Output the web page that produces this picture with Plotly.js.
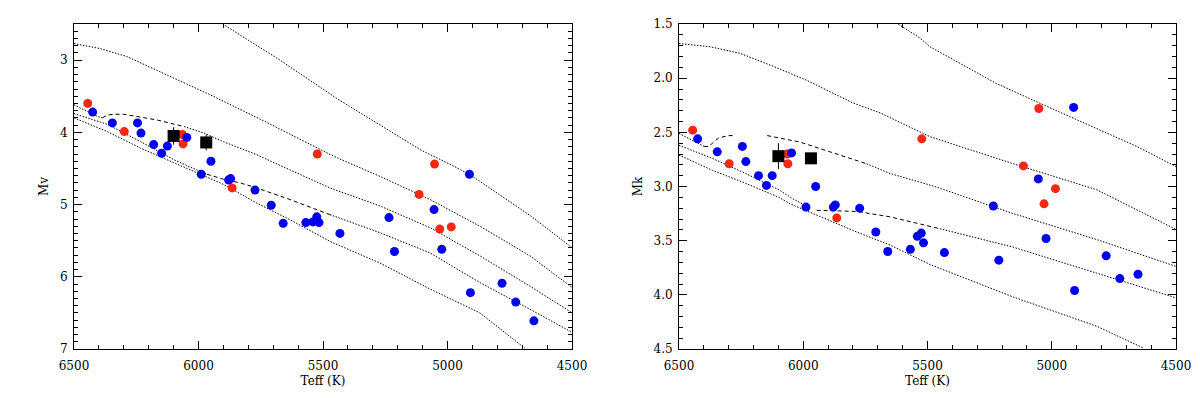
<!DOCTYPE html>
<html>
<head>
<meta charset="utf-8">
<script src="https://cdn.plot.ly/plotly-3.0.1.min.js"></script>
<style>
  body { margin: 0; background: #fff; }
  #hr { width: 1200px; height: 398px; }
</style>
</head>
<body>
<div id="hr"></div>
<script>
// stars: red sample
var teffRed = [6445, 6298, 6065, 6062, 5865, 5523, 5052, 5114, 5031, 4985];
var mvRed   = [3.60, 3.99, 4.03, 4.16, 4.77, 4.30, 4.44, 4.86, 5.34, 5.31];
var mkRed   = [2.48, 2.79, 2.70, 2.79, 3.29, 2.56, 2.28, 2.81, 3.16, 3.02];

// stars: blue sample
var teffBlue = [6425, 6346, 6245, 6231, 6180, 6125, 6148, 6047, 5950, 5989, 5879, 5871, 5773, 5708, 5660,
                5569, 5541, 5525, 5516, 5432, 5235, 5213, 5054, 5023, 4912, 4908, 4781, 4726, 4653];
var mvBlue   = [3.72, 3.87, 3.87, 4.01, 4.17, 4.19, 4.29, 4.07, 4.40, 4.58, 4.66, 4.64, 4.80, 5.01, 5.26,
                5.25, 5.24, 5.17, 5.25, 5.40, 5.18, 5.65, 5.07, 5.62, 4.58, 6.22, 6.09, 6.35, 6.61];
var mkBlue   = [2.56, 2.68, 2.63, 2.77, 2.90, 2.90, 2.99, 2.69, 3.00, 3.19, 3.19, 3.17, 3.20, 3.42, 3.60,
                3.58, 3.46, 3.43, 3.52, 3.61, 3.18, 3.68, 2.93, 3.48, 2.27, 3.96, 3.64, 3.85, 3.81];

// the two program stars (black squares)
var teffSq  = [6100, 5969];
var mvSq    = [4.05, 4.14];
var mvSqErr = [0.12, 0.11];
var mkSq    = [2.72, 2.74];
var mkSqErr = [0.12, 0.04];

// isochrones, Mv panel
var v1T = [5903, 5673, 5445, 5110, 5003, 4912, 4669, 4499];
var v1M = [2.50, 3.00, 3.53, 4.24, 4.42, 4.58, 5.15, 5.60];
var v2T = [6500, 6396, 6288, 6128, 5941, 5733, 5452, 5271, 5070, 4870, 4669, 4499];
var v2M = [2.77, 2.84, 2.95, 3.20, 3.50, 3.85, 4.34, 4.61, 4.93, 5.30, 5.71, 6.15];
var v3T = [6500, 6406, 6386, 6366, 6339, 6299, 6165, 6058, 5978, 5900, 5766, 5633, 5472, 5271, 5070, 4870, 4669, 4499];
var v3M = [3.62, 3.78, 3.80, 3.76, 3.75, 3.75, 3.83, 3.92, 4.01, 4.13, 4.31, 4.52, 4.77, 5.02, 5.32, 5.71, 6.13, 6.50];
var v4T = [6500, 6366, 6232, 6098, 6034, 5966, 5900, 5833, 5766, 5633, 5472, 5271, 5070, 4870, 4669, 4499];
var v4M = [3.74, 3.89, 4.13, 4.38, 4.48, 4.58, 4.65, 4.70, 4.77, 4.93, 5.14, 5.39, 5.67, 6.08, 6.45, 6.77];
var v5T = [6500, 6366, 6232, 6098, 5978, 5900, 5766, 5633, 5472, 5271, 5070, 4870, 4689];
var v5M = [3.80, 3.99, 4.22, 4.42, 4.61, 4.72, 4.98, 5.21, 5.51, 5.81, 6.17, 6.50, 6.99];

// isochrones, Mk panel
var k1T = [5618, 5530, 5490, 5222, 5020, 4806, 4658, 4497];
var k1M = [1.50, 1.63, 1.71, 2.05, 2.26, 2.48, 2.63, 2.82];
var k2T = [6500, 6375, 6255, 6121, 5986, 5799, 5691, 5490, 5155, 4819, 4497];
var k2M = [1.68, 1.71, 1.77, 1.89, 2.02, 2.23, 2.32, 2.54, 2.79, 3.03, 3.40];
var k3T = [6500, 6433, 6399, 6379, 6366, 6339, 6299, 6279, 6145, 6013, 5879, 5745, 5651, 5470, 5155, 4819, 4497];
var k3M = [2.51, 2.59, 2.63, 2.63, 2.60, 2.55, 2.53, 2.53, 2.53, 2.59, 2.69, 2.79, 2.88, 3.00, 3.25, 3.49, 3.74];
var k4T = [6500, 6366, 6232, 6098, 6044, 5973, 5946, 5785, 5651, 5450, 5155, 4819, 4497];
var k4M = [2.62, 2.74, 2.88, 3.03, 3.11, 3.20, 3.22, 3.23, 3.28, 3.39, 3.56, 3.80, 4.03];
var k5T = [6500, 6366, 6232, 6098, 6053, 5919, 5785, 5651, 5543, 5490, 5155, 4819, 4632];
var k5M = [2.71, 2.85, 2.97, 3.10, 3.16, 3.29, 3.42, 3.54, 3.66, 3.72, 4.02, 4.29, 4.49];

var DOT = '1.5px,1.5px';
var DASH = '4px,3px';

// one line trace over a slice [a, b] of a curve
function seg(xs, ys, a, b, dash, xa, ya) {
  return {
    x: xs.slice(a, b + 1), y: ys.slice(a, b + 1),
    xaxis: xa, yaxis: ya, type: 'scatter', mode: 'lines',
    line: {color: 'black', width: 1, dash: dash},
    hoverinfo: 'skip'
  };
}

function whole(xs, ys, xa, ya) {
  return seg(xs, ys, 0, xs.length - 1, DOT, xa, ya);
}

function stars(xs, ys, col, size, xa, ya) {
  return {
    x: xs, y: ys, xaxis: xa, yaxis: ya, type: 'scatter', mode: 'markers',
    marker: {color: col, size: size, line: {width: 0}}
  };
}

function squares(ys, err, xa, ya) {
  return {
    x: teffSq, y: ys, xaxis: xa, yaxis: ya, type: 'scatter', mode: 'markers',
    marker: {color: 'black', symbol: 'square', size: 12},
    error_y: {type: 'data', array: err, visible: true, color: 'black', thickness: 1, width: 0}
  };
}

var RED = 'rgb(245,40,20)';
var BLUE = 'rgb(0,0,240)';

var data = [
  whole(v1T, v1M, 'x', 'y'),
  whole(v2T, v2M, 'x', 'y'),
  seg(v3T, v3M, 0, 2, DOT, 'x', 'y'),
  seg(v3T, v3M, 2, 7, DASH, 'x', 'y'),
  seg(v3T, v3M, 7, v3T.length - 1, DOT, 'x', 'y'),
  seg(v4T, v4M, 0, 5, DOT, 'x', 'y'),
  seg(v4T, v4M, 5, 10, DASH, 'x', 'y'),
  seg(v4T, v4M, 10, v4T.length - 1, DOT, 'x', 'y'),
  whole(v5T, v5M, 'x', 'y'),
  stars(teffRed, mvRed, RED, 9, 'x', 'y'),
  stars(teffBlue, mvBlue, BLUE, 9, 'x', 'y'),
  squares(mvSq, mvSqErr, 'x', 'y'),

  whole(k1T, k1M, 'x2', 'y2'),
  whole(k2T, k2M, 'x2', 'y2'),
  seg(k3T, k3M, 0, 2, DOT, 'x2', 'y2'),
  seg(k3T, k3M, 2, 7, DASH, 'x2', 'y2'),
  seg(k3T, k3M, 8, 11, DASH, 'x2', 'y2'),
  seg(k3T, k3M, 11, k3T.length - 1, DOT, 'x2', 'y2'),
  seg(k4T, k4M, 0, 5, DOT, 'x2', 'y2'),
  seg(k4T, k4M, 6, 9, DASH, 'x2', 'y2'),
  seg(k4T, k4M, 9, k4T.length - 1, DOT, 'x2', 'y2'),
  whole(k5T, k5M, 'x2', 'y2'),
  stars(teffRed, mkRed, RED, 9, 'x2', 'y2'),
  stars(teffBlue, mkBlue, BLUE, 9, 'x2', 'y2'),
  squares(mkSq, mkSqErr, 'x2', 'y2')
];

var FONT = {family: 'DejaVu Serif', size: 12, color: 'black'};

function ax(extra) {
  var a = {
    showline: true, linecolor: 'black', linewidth: 1, mirror: 'allticks',
    ticks: 'inside', ticklen: 8, tickwidth: 1, tickcolor: 'black', layer: 'above traces',
    showgrid: false, zeroline: false, tickfont: FONT,
    minor: {ticks: 'inside', ticklen: 4, tickwidth: 1, tickcolor: 'black'}
  };
  for (var k in extra) {
    if (k === 'minor') { for (var m in extra.minor) a.minor[m] = extra.minor[m]; }
    else a[k] = extra[k];
  }
  return a;
}

var layout = {
  width: 1200, height: 398,
  margin: {l: 0, r: 0, t: 24, b: 49},
  paper_bgcolor: 'white', plot_bgcolor: 'white',
  showlegend: false,
  font: FONT,
  xaxis: ax({domain: [74 / 1200, 572 / 1200], anchor: 'y', range: [6500, 4500],
             tick0: 4500, dtick: 500, minor: {dtick: 100}, ticklabelstandoff: 6,
             title: {text: 'Teff (K)', font: FONT, standoff: 4}}),
  yaxis: ax({domain: [0, 1], anchor: 'x', range: [7, 2.5],
             tick0: 0, dtick: 1, minor: {dtick: 0.1}, ticklabelstandoff: 3,
             title: {text: 'Mv', font: FONT, standoff: 8}}),
  xaxis2: ax({domain: [679 / 1200, 1176 / 1200], anchor: 'y2', range: [6500, 4500],
              tick0: 4500, dtick: 500, minor: {dtick: 100}, ticklabelstandoff: 6,
              title: {text: 'Teff (K)', font: FONT, standoff: 4}}),
  yaxis2: ax({domain: [0, 1], anchor: 'x2', range: [4.5, 1.5],
              tick0: 0, dtick: 0.5, tickformat: '.1f', minor: {dtick: 0.1}, ticklabelstandoff: 3,
              title: {text: 'Mk', font: FONT, standoff: 8}})
};

Plotly.newPlot('hr', data, layout, {displayModeBar: false, staticPlot: true});
</script>
</body>
</html>
